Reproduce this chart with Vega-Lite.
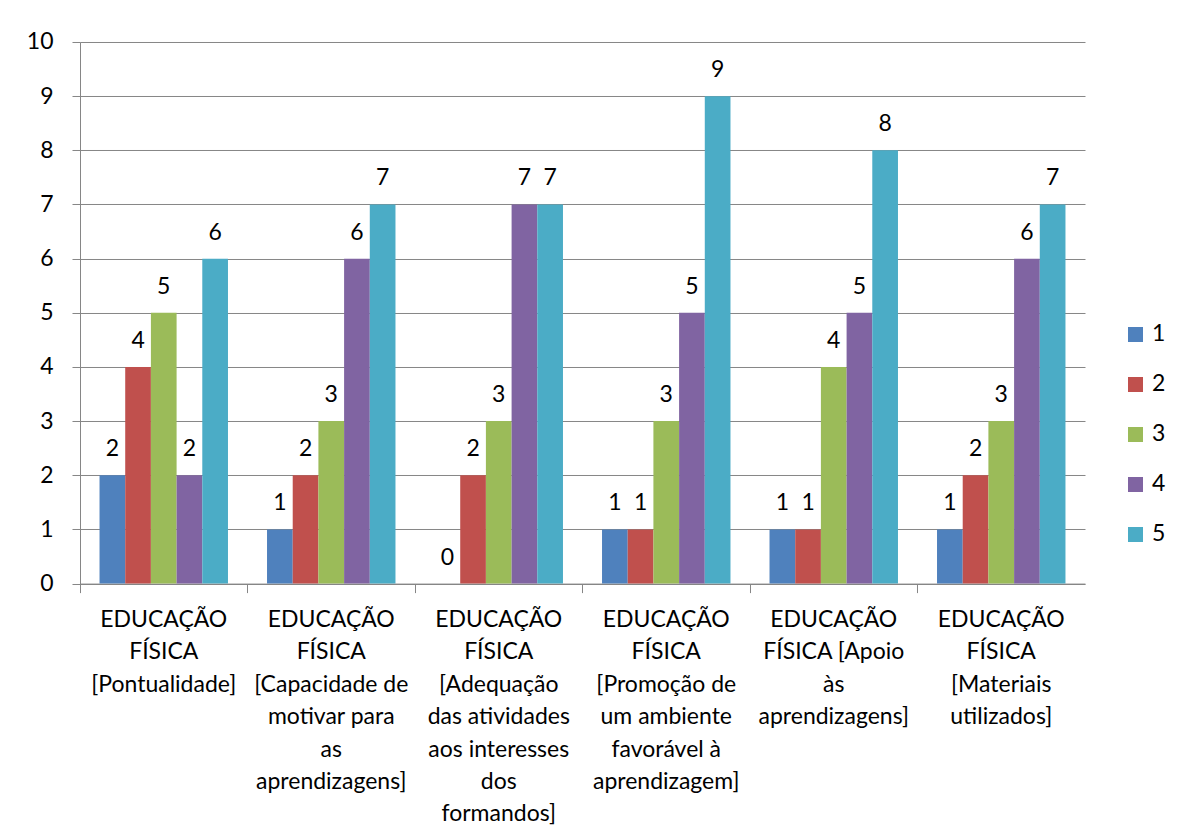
{
  "$schema": "https://vega.github.io/schema/vega-lite/v6.json",
  "autosize": {"type": "none"},
  "width": 1005,
  "height": 541.6,
  "padding": {"left": 80, "top": 42, "right": 94, "bottom": 255},
  "background": "white",
  "config": {"font": "Lato", "view": {"stroke": null}},
  "data": {"values": [
    {"cat": "EDUCAÇÃO|FÍSICA|[Pontualidade]", "serie": "1", "value": 2},
    {"cat": "EDUCAÇÃO|FÍSICA|[Pontualidade]", "serie": "2", "value": 4},
    {"cat": "EDUCAÇÃO|FÍSICA|[Pontualidade]", "serie": "3", "value": 5},
    {"cat": "EDUCAÇÃO|FÍSICA|[Pontualidade]", "serie": "4", "value": 2},
    {"cat": "EDUCAÇÃO|FÍSICA|[Pontualidade]", "serie": "5", "value": 6},
    {"cat": "EDUCAÇÃO|FÍSICA|[Capacidade de|motivar para|as|aprendizagens]", "serie": "1", "value": 1},
    {"cat": "EDUCAÇÃO|FÍSICA|[Capacidade de|motivar para|as|aprendizagens]", "serie": "2", "value": 2},
    {"cat": "EDUCAÇÃO|FÍSICA|[Capacidade de|motivar para|as|aprendizagens]", "serie": "3", "value": 3},
    {"cat": "EDUCAÇÃO|FÍSICA|[Capacidade de|motivar para|as|aprendizagens]", "serie": "4", "value": 6},
    {"cat": "EDUCAÇÃO|FÍSICA|[Capacidade de|motivar para|as|aprendizagens]", "serie": "5", "value": 7},
    {"cat": "EDUCAÇÃO|FÍSICA|[Adequação|das atividades|aos interesses|dos|formandos]", "serie": "1", "value": 0},
    {"cat": "EDUCAÇÃO|FÍSICA|[Adequação|das atividades|aos interesses|dos|formandos]", "serie": "2", "value": 2},
    {"cat": "EDUCAÇÃO|FÍSICA|[Adequação|das atividades|aos interesses|dos|formandos]", "serie": "3", "value": 3},
    {"cat": "EDUCAÇÃO|FÍSICA|[Adequação|das atividades|aos interesses|dos|formandos]", "serie": "4", "value": 7},
    {"cat": "EDUCAÇÃO|FÍSICA|[Adequação|das atividades|aos interesses|dos|formandos]", "serie": "5", "value": 7},
    {"cat": "EDUCAÇÃO|FÍSICA|[Promoção de|um ambiente|favorável à|aprendizagem]", "serie": "1", "value": 1},
    {"cat": "EDUCAÇÃO|FÍSICA|[Promoção de|um ambiente|favorável à|aprendizagem]", "serie": "2", "value": 1},
    {"cat": "EDUCAÇÃO|FÍSICA|[Promoção de|um ambiente|favorável à|aprendizagem]", "serie": "3", "value": 3},
    {"cat": "EDUCAÇÃO|FÍSICA|[Promoção de|um ambiente|favorável à|aprendizagem]", "serie": "4", "value": 5},
    {"cat": "EDUCAÇÃO|FÍSICA|[Promoção de|um ambiente|favorável à|aprendizagem]", "serie": "5", "value": 9},
    {"cat": "EDUCAÇÃO|FÍSICA [Apoio|às|aprendizagens]", "serie": "1", "value": 1},
    {"cat": "EDUCAÇÃO|FÍSICA [Apoio|às|aprendizagens]", "serie": "2", "value": 1},
    {"cat": "EDUCAÇÃO|FÍSICA [Apoio|às|aprendizagens]", "serie": "3", "value": 4},
    {"cat": "EDUCAÇÃO|FÍSICA [Apoio|às|aprendizagens]", "serie": "4", "value": 5},
    {"cat": "EDUCAÇÃO|FÍSICA [Apoio|às|aprendizagens]", "serie": "5", "value": 8},
    {"cat": "EDUCAÇÃO|FÍSICA|[Materiais|utilizados]", "serie": "1", "value": 1},
    {"cat": "EDUCAÇÃO|FÍSICA|[Materiais|utilizados]", "serie": "2", "value": 2},
    {"cat": "EDUCAÇÃO|FÍSICA|[Materiais|utilizados]", "serie": "3", "value": 3},
    {"cat": "EDUCAÇÃO|FÍSICA|[Materiais|utilizados]", "serie": "4", "value": 6},
    {"cat": "EDUCAÇÃO|FÍSICA|[Materiais|utilizados]", "serie": "5", "value": 7}
  ]},
  "encoding": {
    "x": {
      "field": "cat", "type": "nominal", "sort": null, "title": null,
      "scale": {"paddingInner": 0, "paddingOuter": 0},
      "axis": {
        "labelAngle": 0, "labelExpr": "split(datum.label, '|')",
        "labelFontSize": 23, "labelColor": "black", "labelBaseline": "top",
        "labelLineHeight": 32.4, "labelPadding": 16, "labelLimit": 0,
        "bandPosition": 0, "tickSize": 9, "tickColor": "#868686",
        "domainColor": "#868686", "grid": false
      }
    },
    "xOffset": {"field": "serie", "type": "nominal", "scale": {"paddingInner": 0, "paddingOuter": 0.76}},
    "y": {
      "field": "value", "type": "quantitative", "title": null,
      "scale": {"domain": [0, 10], "nice": false},
      "axis": {
        "values": [0, 1, 2, 3, 4, 5, 6, 7, 8, 9, 10],
        "labelFontSize": 23, "labelColor": "black", "labelPadding": 19,
        "tickSize": 8, "tickColor": "#868686", "domainColor": "#868686",
        "gridColor": "#868686", "grid": true
      }
    }
  },
  "layer": [
    {
      "mark": {"type": "bar"},
      "encoding": {
        "color": {
          "field": "serie", "type": "nominal",
          "scale": {"domain": ["1", "2", "3", "4", "5"], "range": ["#4F81BD", "#C0504D", "#9BBB59", "#8064A2", "#4BACC6"]},
          "legend": {
            "title": null, "orient": "none", "legendX": 1044, "legendY": 281,
            "symbolType": "square", "symbolSize": 225, "symbolStrokeWidth": 0,
            "labelFontSize": 23, "labelColor": "black", "labelOffset": 5,
            "rowPadding": 26, "padding": 0
          }
        }
      }
    },
    {
      "mark": {"type": "text", "baseline": "alphabetic", "dy": -19, "fontSize": 23, "color": "black"},
      "encoding": {"text": {"field": "value", "type": "quantitative"}}
    }
  ]
}
